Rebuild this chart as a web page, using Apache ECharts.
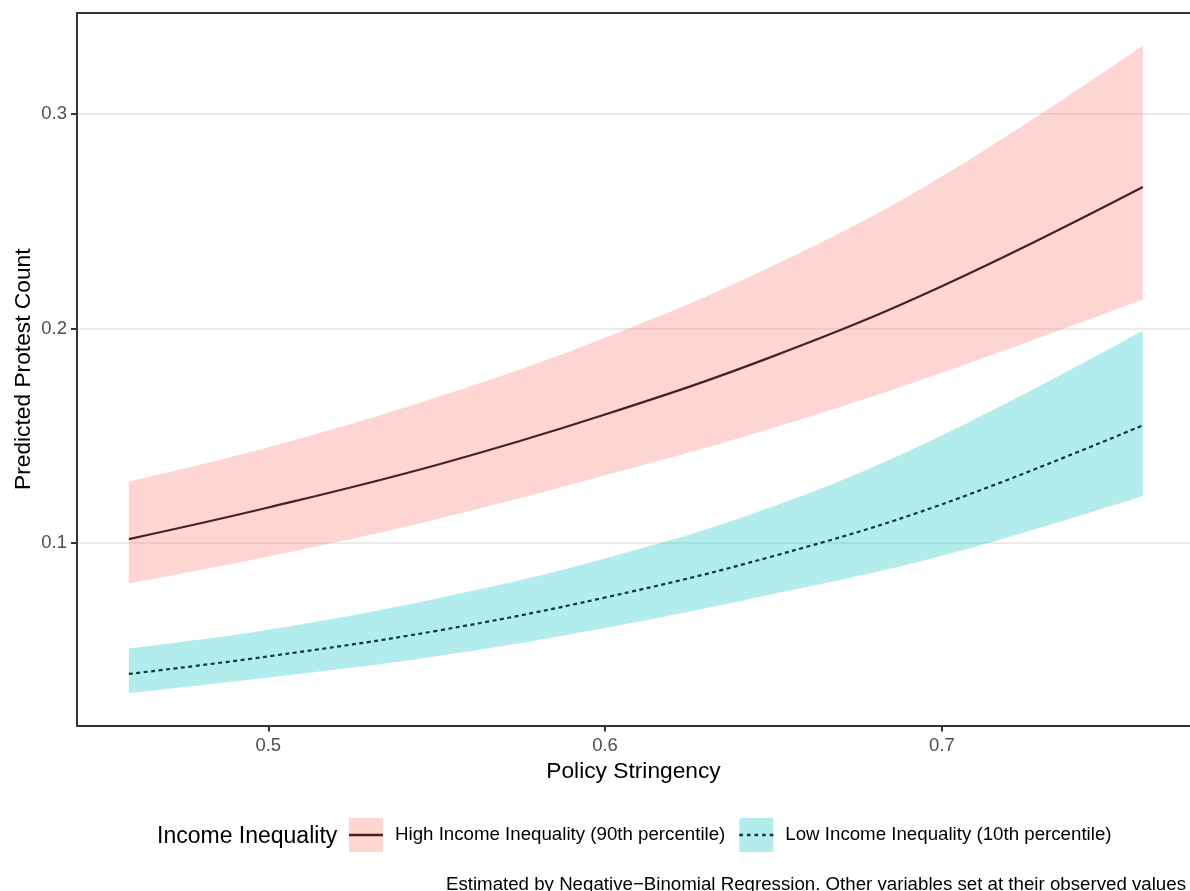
<!DOCTYPE html>
<html>
<head>
<meta charset="utf-8">
<script src="https://cdn.jsdelivr.net/npm/echarts@6/dist/echarts.min.js"></script>
<style>
html,body{margin:0;padding:0;background:#fff;}
#chart{width:1190px;height:891px;}
</style>
</head>
<body>
<div id="chart"></div>
<script>
// ---- data ----
const policyStringency = [0.4586, 0.50, 0.55, 0.60, 0.65, 0.70, 0.7597];
const highFit   = [0.1019, 0.1166, 0.1364, 0.1599, 0.1871, 0.2197, 0.2659];
const highLower = [0.0813, 0.0938, 0.1112, 0.1316, 0.1538, 0.1794, 0.2135];
const highUpper = [0.1287, 0.1447, 0.1680, 0.1957, 0.2293, 0.2708, 0.3318];
const lowFit    = [0.0391, 0.0473, 0.0592, 0.0747, 0.0940, 0.1181, 0.1549];
const lowLower  = [0.0302, 0.0375, 0.0474, 0.0605, 0.0763, 0.0941, 0.1220];
const lowUpper  = [0.0510, 0.0597, 0.0743, 0.0929, 0.1172, 0.1502, 0.1991];
const xTicks = [0.5, 0.6, 0.7];
const yTicks = [0.1, 0.2, 0.3];
const highName = 'High Income Inequality (90th percentile)';
const lowName  = 'Low Income Inequality (10th percentile)';

const FONT = '"Liberation Sans", Arial, Helvetica, sans-serif';
const pairs = (ys) => policyStringency.map((x, i) => [x, ys[i]]);

const highFill = 'rgba(248,118,109,0.3)';
const lowFill = 'rgba(0,191,196,0.3)';
const highLine = '#4d1f20';
const lowLine = '#0f3638';

const chart = echarts.init(document.getElementById('chart'), null, {renderer: 'canvas'});

// ribbons as stacked smooth areas; the y value is placed first so that the
// stack is applied to the y dimension (x is a value axis too)
const SMOOTH = 0.4;
function bandBase(stack, lo) {
  return {
    type: 'line', stack: stack, symbol: 'none', smooth: SMOOTH, silent: true, z: 1,
    data: policyStringency.map((x, i) => [lo[i], x]),
    encode: {x: 1, y: 0},
    lineStyle: {width: 0, opacity: 0}
  };
}
function bandTop(name, stack, lo, up, color) {
  return {
    name: name, type: 'line', stack: stack, symbol: 'none', smooth: SMOOTH, silent: true, z: 1,
    data: policyStringency.map((x, i) => [+(up[i] - lo[i]).toFixed(5), x]),
    encode: {x: 1, y: 0},
    lineStyle: {width: 0, opacity: 0},
    itemStyle: {color: color},
    areaStyle: {color: color, opacity: 1}
  };
}

const solidIcon = 'path://M0 0H30V2.2H0Z';
const dotIcon = 'path://M0 0h3.2v2.2h-3.2zM6.8 0h3.2v2.2h-3.2zM13.6 0h3.2v2.2h-3.2zM20.4 0h3.2v2.2h-3.2zM27.2 0h3.2v2.2h-3.2z';

const legendCommon = {
  orient: 'horizontal', left: 349, top: 817, padding: 0,
  itemWidth: 34, itemHeight: 34, itemGap: 14,
  selectedMode: false
};
const legendText = {fontFamily: FONT, fontSize: 18.7, lineHeight: 36, padding: [0, 0, 0, 7]};

chart.setOption({
  animation: false,
  backgroundColor: '#fff',
  textStyle: {fontFamily: FONT},
  title: [
    {text: 'Income Inequality', left: 157, top: 825, padding: 0,
     textStyle: {fontFamily: FONT, fontSize: 23, fontWeight: 'normal', color: '#000'}},
    {text: 'Estimated by Negative\u2212Binomial Regression. Other variables set at their observed values',
     right: 4, top: 875, padding: 0,
     textStyle: {fontFamily: FONT, fontSize: 18.7, fontWeight: 'normal', color: '#000'}}
  ],
  grid: {left: 77, right: 0, top: 13, bottom: 165.5, containLabel: false, show: false},
  legend: [
    Object.assign({}, legendCommon, {
      z: 1,
      data: [
        {name: 'High band', icon: 'rect', itemStyle: {color: highFill}},
        {name: 'Low band', icon: 'rect', itemStyle: {color: lowFill}}
      ],
      formatter: (n) => n === 'High band' ? highName : lowName,
      textStyle: Object.assign({}, legendText, {color: 'rgba(0,0,0,0)'})
    }),
    Object.assign({}, legendCommon, {
      z: 2,
      data: [
        {name: highName, icon: solidIcon, itemStyle: {color: highLine}},
        {name: lowName, icon: dotIcon, itemStyle: {color: lowLine}}
      ],
      textStyle: Object.assign({}, legendText, {color: '#000'})
    })
  ],
  xAxis: [
    {
      type: 'value', min: 0.4432, max: 0.7737, position: 'bottom',
      name: 'Policy Stringency', nameLocation: 'middle', nameGap: 35, nameMoveOverlap: false,
      nameTextStyle: {fontFamily: FONT, fontSize: 22.75, color: '#000'},
      axisLine: {show: true, onZero: false, lineStyle: {color: '#333333', width: 2}},
      axisTick: {show: true, length: 6, lineStyle: {color: '#333333', width: 2}, customValues: xTicks},
      axisLabel: {show: true, margin: 11, fontFamily: FONT, fontSize: 18.5, color: '#4d4d4d',
                  customValues: xTicks, formatter: (v) => String(+v.toFixed(1))},
      splitLine: {show: false}
    },
    {
      type: 'value', min: 0.4432, max: 0.7737, position: 'top',
      axisLine: {show: true, onZero: false, lineStyle: {color: '#333333', width: 2}},
      axisTick: {show: false}, axisLabel: {show: false}, splitLine: {show: false}
    }
  ],
  yAxis: {
    type: 'value', min: 0.0151, max: 0.3469,
    name: 'Predicted Protest Count', nameLocation: 'middle', nameGap: 41.5, nameMoveOverlap: false,
    nameTextStyle: {fontFamily: FONT, fontSize: 22.75, color: '#000'},
    axisLine: {show: true, onZero: false, lineStyle: {color: '#333333', width: 2}},
    axisTick: {show: true, length: 6, lineStyle: {color: '#333333', width: 2}, customValues: yTicks},
    axisLabel: {show: true, margin: 10, fontFamily: FONT, fontSize: 18.5, color: '#4d4d4d',
                customValues: yTicks, formatter: (v) => String(+v.toFixed(1))},
    splitLine: {show: true, lineStyle: {color: '#ebebeb', width: 2}}
  },
  series: [
    bandBase('hb', highLower),
    bandTop('High band', 'hb', highLower, highUpper, highFill),
    bandBase('lb', lowLower),
    bandTop('Low band', 'lb', lowLower, lowUpper, lowFill),
    {name: highName, type: 'line', data: pairs(highFit), symbol: 'none', smooth: SMOOTH, z: 3,
     lineStyle: {color: highLine, width: 2.2, type: 'solid'}, itemStyle: {color: highLine}},
    {name: lowName, type: 'line', data: pairs(lowFit), symbol: 'none', smooth: SMOOTH, z: 3,
     lineStyle: {color: lowLine, width: 2.2, type: [4, 3.5]}, itemStyle: {color: lowLine}}
  ]
});
</script>
</body>
</html>
